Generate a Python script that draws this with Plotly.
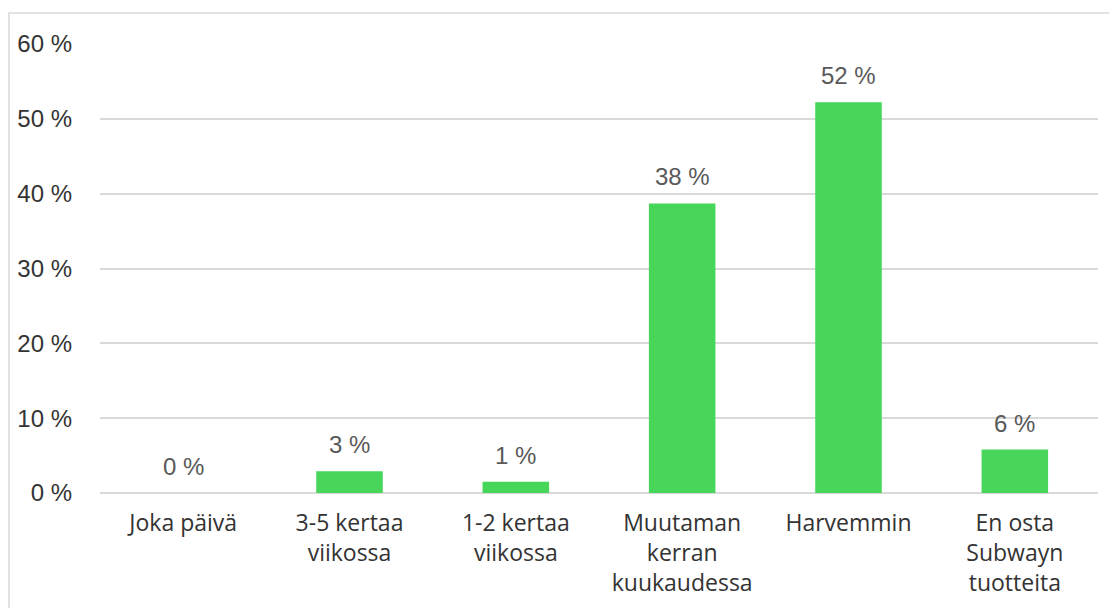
import plotly.graph_objects as go

categories = ["Joka päivä", "3-5 kertaa<br>viikossa", "1-2 kertaa<br>viikossa",
              "Muutaman<br>kerran<br>kuukaudessa", "Harvemmin", "En osta<br>Subwayn<br>tuotteita"]
values = [0.0, 2.9, 1.5, 38.7, 52.2, 5.8]
value_labels = ["0 %", "3 %", "1 %", "38 %", "52 %", "6 %"]
y_ticks = [0, 10, 20, 30, 40, 50, 60]
y_tick_labels = ["0 %", "10 %", "20 %", "30 %", "40 %", "50 %", "60 %"]

OFF = 8  # default page body margin
W, H = 1117 - OFF, 608 - OFF
L, R, T, B = 100 - OFF, 19, 44 - OFF, 115
pw, ph = W - L - R, H - T - B

CAT_FONT = "Open Sans"
NUM_FONT = "Liberation Sans"

fig = go.Figure()
fig.add_trace(go.Bar(x=categories, y=values, width=0.4,
                     marker=dict(color="#47D65A", line=dict(width=0)),
                     hoverinfo="skip"))

for c, v, t in zip(categories, values, value_labels):
    fig.add_annotation(x=c, y=v, text=t, showarrow=False, yanchor="bottom",
                       yshift=11, font=dict(family=NUM_FONT, size=24, color="#595959"))

def px_x(p):
    return (p - L) / pw

def px_y(p):
    return (H - B - p) / ph

fig.add_shape(type="rect", xref="paper", yref="paper",
              x0=px_x(1), x1=px_x(1130), y0=px_y(640), y1=px_y(5),
              line=dict(color="#D9D9D9", width=1.5), fillcolor="rgba(0,0,0,0)", layer="below")

fig.update_layout(
    width=W, height=H,
    margin=dict(l=L, r=R, t=T, b=B, pad=0, autoexpand=False),
    paper_bgcolor="white", plot_bgcolor="white",
    showlegend=False,
    bargap=0.6,
    font=dict(family=CAT_FONT, size=23, color="#404040"),
    xaxis=dict(showgrid=False, showline=False, ticks="", automargin=False,
               tickfont=dict(family=CAT_FONT, size=23, color="#333333"),
               ticklabelstandoff=14, tickangle=0, fixedrange=True),
    yaxis=dict(range=[0, 60], tickvals=y_ticks, ticktext=y_tick_labels,
               showgrid=True, gridcolor="#D9D9D9", gridwidth=1.5,
               zeroline=True, zerolinecolor="#D9D9D9", zerolinewidth=1.5,
               showline=False, ticks="", automargin=False,
               tickfont=dict(family=NUM_FONT, size=24, color="#333333"),
               ticklabelstandoff=27, fixedrange=True),
)

fig.write_html("out.html")
